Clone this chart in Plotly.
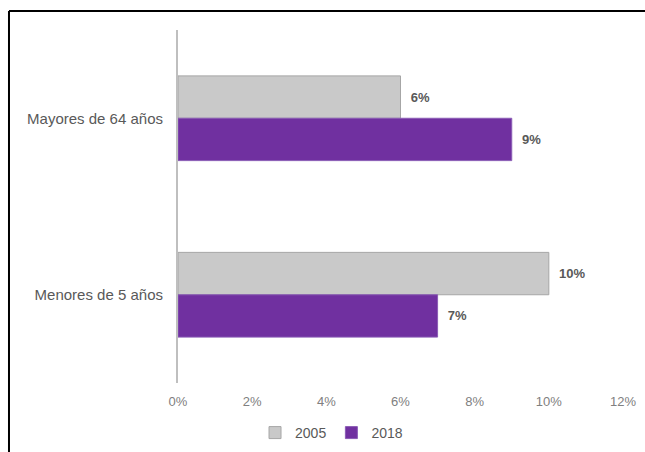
import plotly.graph_objects as go

categories = ["Mayores de 64 años", "Menores de 5 años"]
series_names = ["2005", "2018"]
values_2005 = [0.06, 0.10]
values_2018 = [0.09, 0.07]
colors = ["#c9c9c9", "#7030a0"]
line_colors = ["#a6a6a6", "#8a5cb5"]

fig = go.Figure()
for name, vals, c, lc in zip(series_names, [values_2005, values_2018], colors, line_colors):
    fig.add_trace(go.Bar(
        y=categories, x=vals, name=name, orientation="h",
        marker=dict(color=c, line=dict(color=lc, width=1)),
        texttemplate="  %{x:.0%}", textposition="outside",
        textfont=dict(family="Liberation Sans, Arial", size=13, color="#595959", weight="bold"),
        cliponaxis=False,
    ))

fig.update_layout(
    width=645, height=452,
    margin=dict(l=178, r=22, t=30, b=69, autoexpand=False),
    paper_bgcolor="white", plot_bgcolor="white",
    barmode="group", bargap=0.52, bargroupgap=0,
    font=dict(family="Liberation Sans, Arial", color="#595959"),
    showlegend=True,
    legend=dict(orientation="h", x=0.345, xanchor="center", y=-0.1416, yanchor="middle",
                font=dict(size=14, color="#595959"), traceorder="normal",
                itemwidth=30, tracegroupgap=0),
    xaxis=dict(range=[0, 0.12], dtick=0.02, tickformat=".0%", showgrid=False,
               zeroline=False, showline=False, ticks="", automargin=False,
               ticklabelstandoff=9,
               tickfont=dict(size=13, color="#808080")),
    yaxis=dict(autorange="reversed", showline=True, linecolor="#bfbfbf", linewidth=2,
               ticks="", ticklabelstandoff=10, showgrid=False, automargin=False,
               tickfont=dict(size=15, color="#595959")),
    shapes=[
        dict(type="line", xref="paper", yref="paper", x0=-0.3798, x1=1.06, y0=1.0538, y1=1.0538,
             line=dict(color="black", width=2)),
        dict(type="line", xref="paper", yref="paper", x0=-0.3798, x1=-0.3798, y0=1.0538, y1=-0.2,
             line=dict(color="black", width=2)),
    ],
)

fig.write_html("out.html")
